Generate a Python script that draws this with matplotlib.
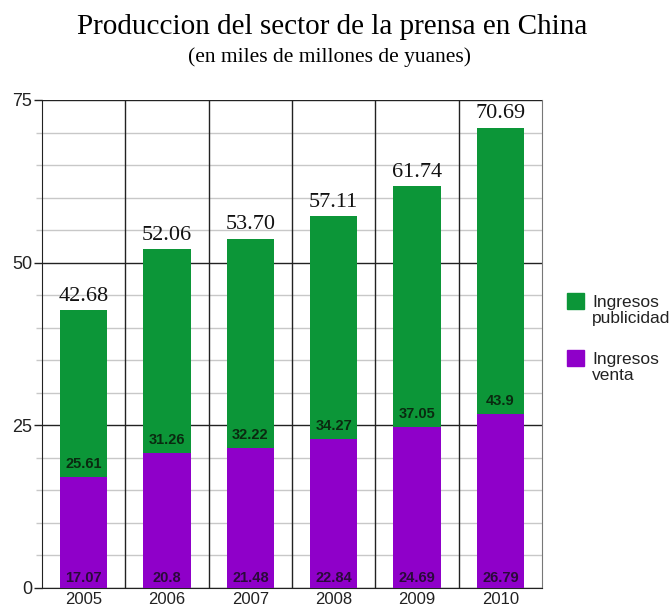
import matplotlib
matplotlib.use("Agg")
import matplotlib.pyplot as plt
from matplotlib.ticker import MultipleLocator
from matplotlib.patches import Rectangle

years = ["2005", "2006", "2007", "2008", "2009", "2010"]
ventas = [17.07, 20.8, 21.48, 22.84, 24.69, 26.79]
publicidad = [25.61, 31.26, 32.22, 34.27, 37.05, 43.9]
totales = ["42.68", "52.06", "53.70", "57.11", "61.74", "70.69"]
yticks = [0, 25, 50, 75]

green = "#0c9638"
violet = "#8f00c9"

fig = plt.figure(figsize=(6.72, 6.08), dpi=100)
W, H = 672, 608
ax = fig.add_axes([42 / W, 1 - 588 / H, (542 - 42) / W, (588 - 100) / H])

n = len(years)
x = list(range(n))
ax.set_xlim(-0.5, n - 0.5)
ax.set_ylim(0, 75)

# minor grid
ax.yaxis.set_minor_locator(MultipleLocator(5))
ax.grid(which="minor", axis="y", color="#c8c8c8", lw=1)
ax.grid(which="major", axis="y", color="#222222", lw=1)
for k in range(1, n):
    ax.axvline(k - 0.5, color="#222222", lw=1, zorder=1)
ax.set_axisbelow(True)

bw = 0.565
ax.bar(x, ventas, width=bw, color=violet, zorder=3)
ax.bar(x, publicidad, width=bw, bottom=ventas, color=green, zorder=3)

for i in range(n):
    ax.text(x[i], 1.5, f"{ventas[i]:g}", ha="center", va="center",
            fontsize=10.5, fontweight="bold", color="#2a0a3a",
            family="Liberation Sans", zorder=4)
    ax.text(x[i], ventas[i] + 2.0, f"{publicidad[i]:g}", ha="center", va="center",
            fontsize=10.5, fontweight="bold", color="#0a2a10",
            family="Liberation Sans", zorder=4)
    ax.text(x[i], ventas[i] + publicidad[i] + 0.7, totales[i], ha="center", va="bottom",
            fontsize=16, family="Liberation Serif", color="#111111", zorder=4)

ax.set_yticks(yticks)
ax.set_yticklabels([str(t) for t in yticks])
ax.set_xticks(x)
ax.set_xticklabels(years)
ax.tick_params(axis="y", which="major", length=6, width=1, color="#222222",
               labelsize=13, pad=1)
ax.tick_params(axis="y", which="minor", length=4, width=1, color="#c8c8c8")
ax.tick_params(axis="x", length=0, labelsize=12, pad=3)
for lab in ax.get_xticklabels() + ax.get_yticklabels():
    lab.set_family("Liberation Sans")
    lab.set_color("#222222")

ax.spines["top"].set_visible(False)
ax.spines["left"].set_color("#222222")
ax.spines["bottom"].set_color("#222222")
ax.spines["right"].set_color("#777777")

fig.text(332 / W, 1 - 27 / H, "Produccion del sector de la prensa en China",
         ha="center", va="center", fontsize=21, family="Liberation Serif")
fig.text(330 / W, 1 - 57 / H, "(en miles de millones de yuanes)",
         ha="center", va="center", fontsize=15.5, family="Liberation Serif")

# legend
for (yy, col, lab) in [(301, green, "Ingresos\npublicidad"), (358, violet, "Ingresos\nventa")]:
    fig.patches.append(Rectangle((567 / W, 1 - (yy + 8) / H), 17 / W, 16 / H,
                                 transform=fig.transFigure, color=col))
    fig.text(592 / W, 1 - (yy - 6) / H, lab, ha="left", va="top", fontsize=12.5,
             family="Liberation Sans", color="#222222", linespacing=1.1)

fig.savefig("out.png", dpi=100)
